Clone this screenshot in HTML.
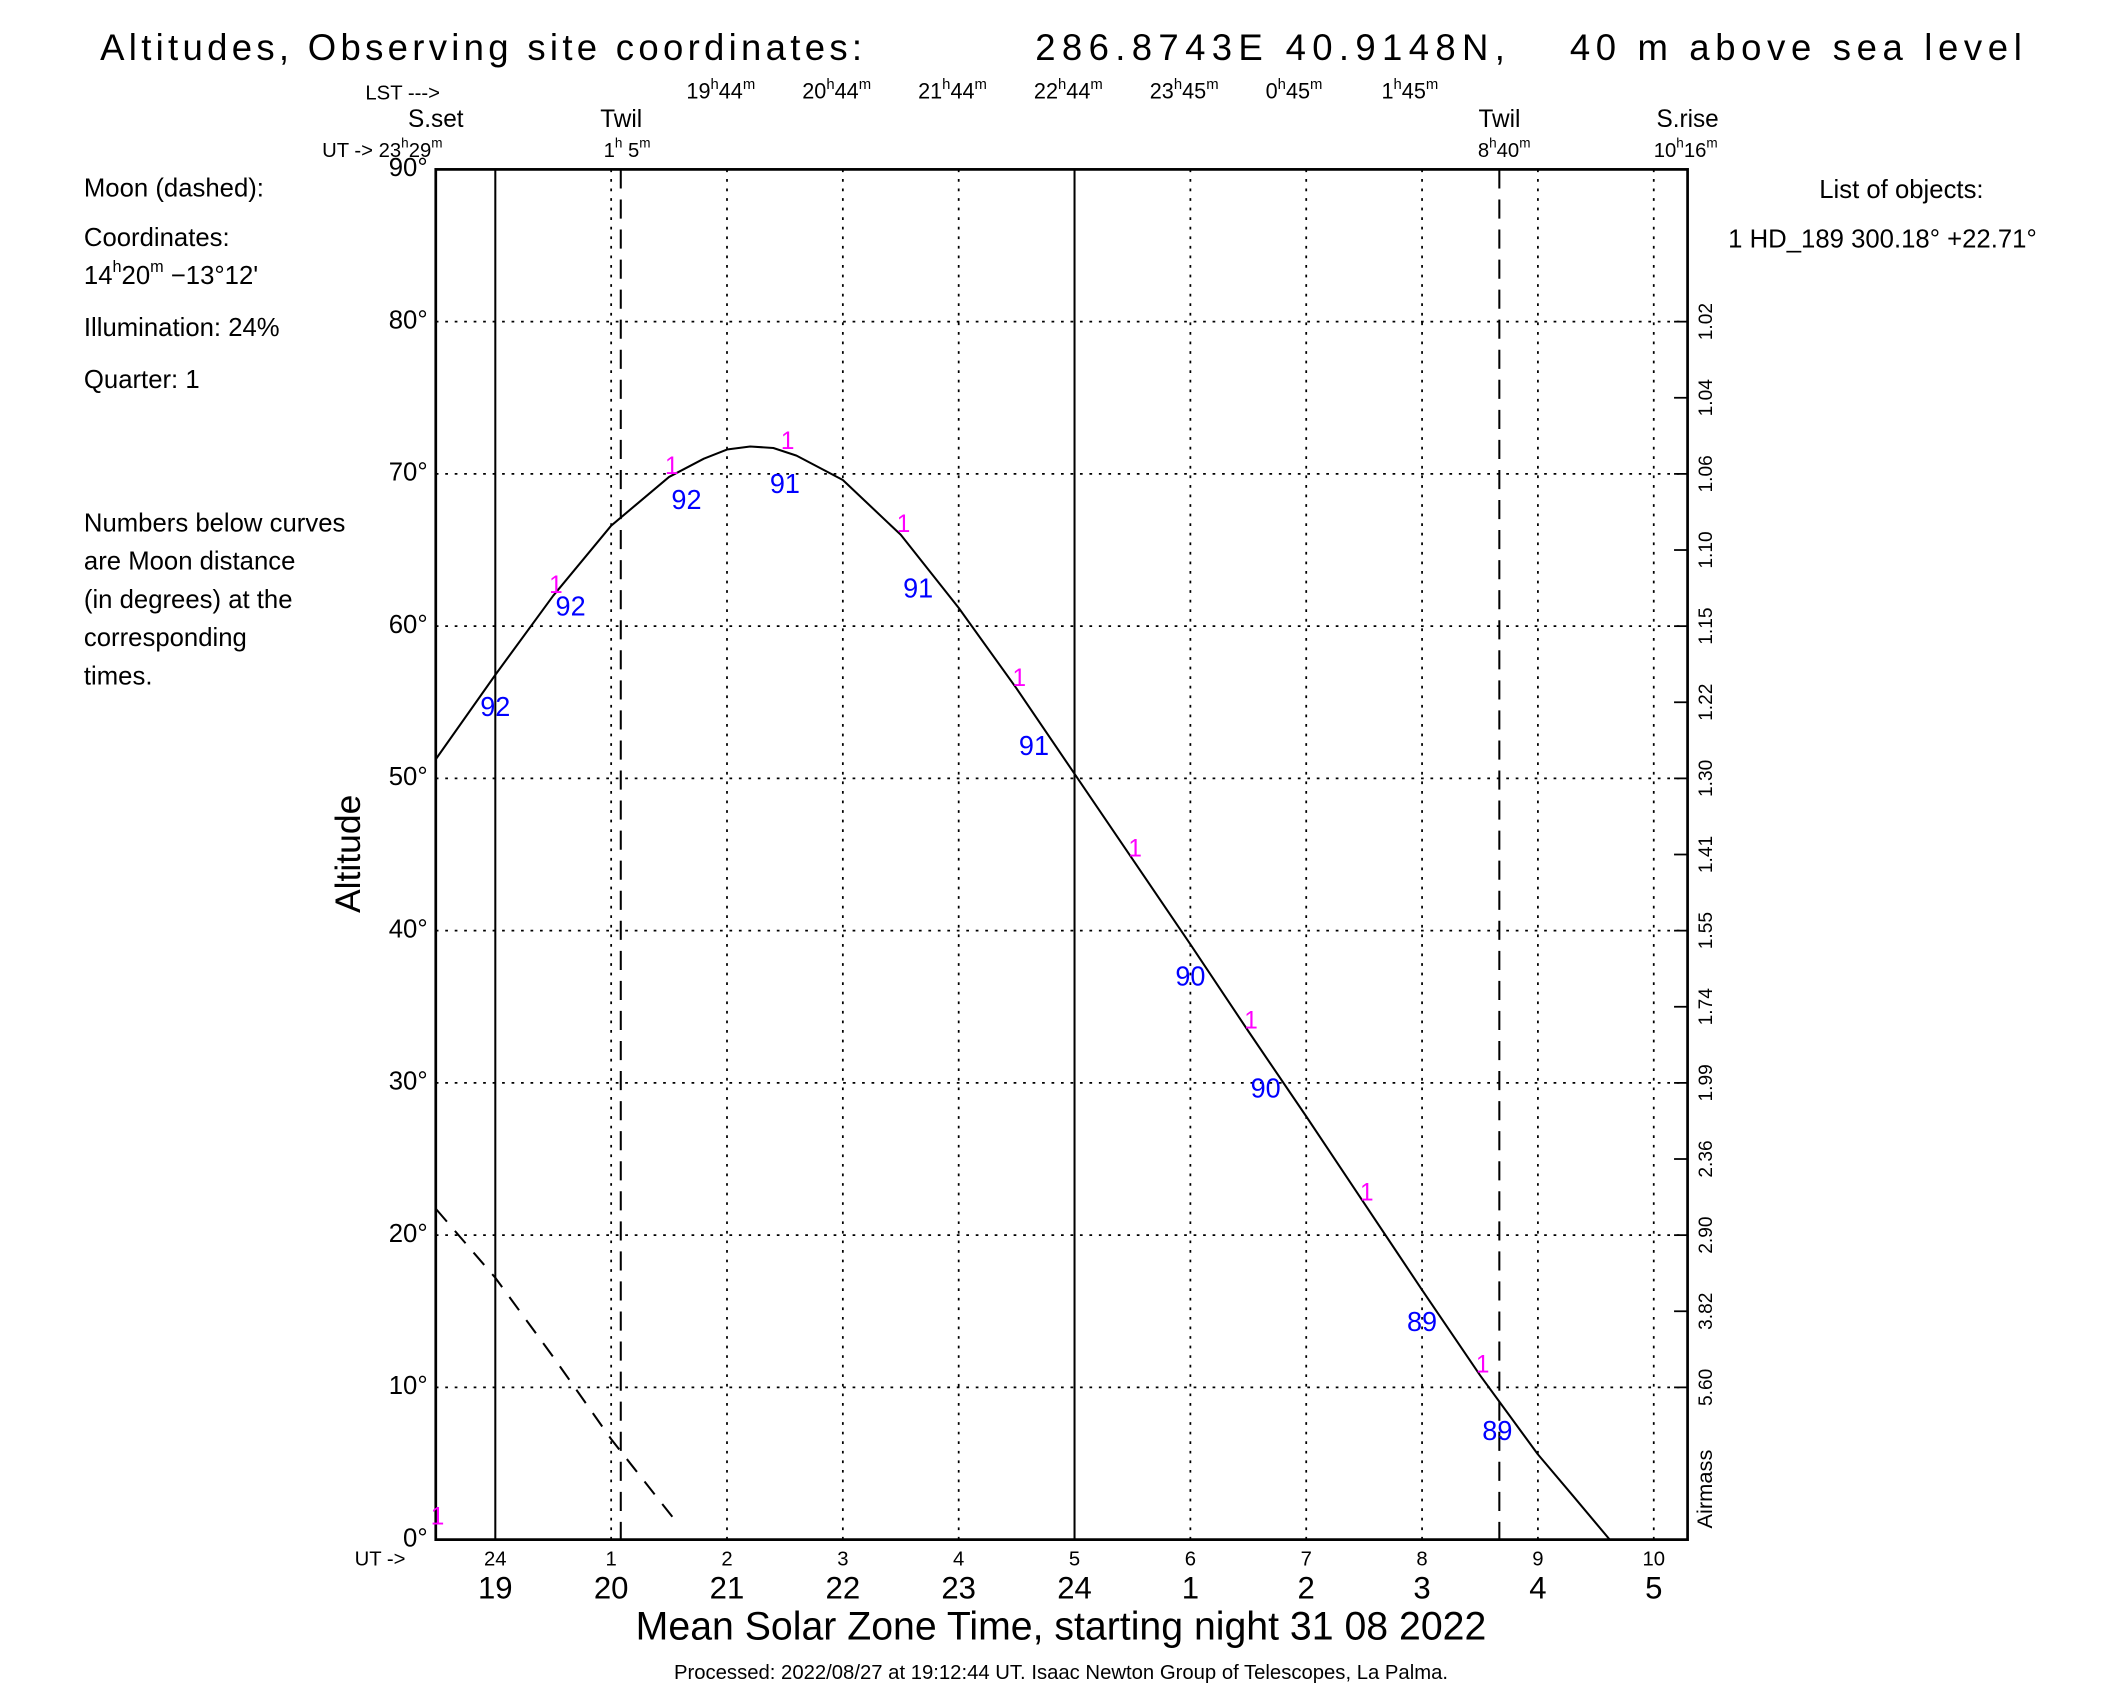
<!DOCTYPE html>
<html><head><meta charset="utf-8"><style>
html,body{margin:0;padding:0;background:#fff;}
svg{display:block;font-family:"Liberation Sans",sans-serif;}
text{fill:#000;}
</style></head><body>
<svg id="chart" width="2122" height="1694" viewBox="0 0 1568 1240" preserveAspectRatio="none" xmlns="http://www.w3.org/2000/svg">
<g font-size="27">
<text x="74" y="44" textLength="563" lengthAdjust="spacing">Altitudes, Observing site coordinates:</text>
<text x="765" y="44" textLength="347" lengthAdjust="spacing">286.8743E  40.9148N,</text>
<text x="1160" y="44" textLength="334" lengthAdjust="spacing">40 m above sea level</text>
</g>
<text x="270" y="73" font-size="15">LST ---&gt;</text>
<text x="322" y="93" font-size="18" text-anchor="middle">S.set</text>
<text x="238" y="115" font-size="15">UT -&gt; 23<tspan font-size="10" dy="-7">h</tspan><tspan dy="7">29</tspan><tspan font-size="10" dy="-7">m</tspan></text>
<text x="459" y="93" font-size="18" text-anchor="middle">Twil</text>
<text x="446" y="115" font-size="15">1<tspan font-size="10" dy="-7">h</tspan><tspan dy="7"> 5</tspan><tspan font-size="10" dy="-7">m</tspan></text>
<text x="1108" y="93" font-size="18" text-anchor="middle">Twil</text>
<text x="1092" y="115" font-size="15">8<tspan font-size="10" dy="-7">h</tspan><tspan dy="7">40</tspan><tspan font-size="10" dy="-7">m</tspan></text>
<text x="1247" y="93" font-size="18" text-anchor="middle">S.rise</text>
<text x="1222" y="115" font-size="15">10<tspan font-size="10" dy="-7">h</tspan><tspan dy="7">16</tspan><tspan font-size="10" dy="-7">m</tspan></text>
<g font-size="19">
<text x="62" y="144">Moon (dashed):</text>
<text x="62" y="180">Coordinates:</text>
<text x="62" y="208">14<tspan font-size="12" dy="-9">h</tspan><tspan dy="9">20</tspan><tspan font-size="12" dy="-9">m</tspan><tspan dy="9">   −13°12'</tspan></text>
<text x="62" y="246">Illumination:  24%</text>
<text x="62" y="284">Quarter: 1</text>
<text x="62" y="389">Numbers below curves</text>
<text x="62" y="417">are Moon distance</text>
<text x="62" y="445">(in degrees) at the</text>
<text x="62" y="473">corresponding</text>
<text x="62" y="501">times.</text>
</g>
<text x="1405" y="145" font-size="19" text-anchor="middle">List of objects:</text>
<text x="1277" y="181" font-size="19">1 HD_189 300.18° +22.71°</text>
<text font-size="26" text-anchor="middle" transform="translate(266,625) rotate(-90)">Altitude</text>
<text x="784" y="1200" font-size="29" text-anchor="middle">Mean Solar Zone Time, starting night 31 08 2022</text>
<text x="784" y="1229" font-size="15" text-anchor="middle">Processed: 2022/08/27 at 19:12:44 UT. Isaac  Newton Group of Telescopes, La Palma.</text>
<text x="262" y="1146" font-size="15">UT -&gt;</text>
<g id="plot"></g>
</svg>
<script>
// Data
const utHours = [0,1,2,3,4,5,6,7,8,9,10];
const utLabels = ["24","1","2","3","4","5","6","7","8","9","10"];
const mstLabels = ["19","20","21","22","23","24","1","2","3","4","5"];
const lstHours = [2,3,4,5,6,7,8];
const lstLabels = [["19","44"],["20","44"],["21","44"],["22","44"],["23","45"],["0","45"],["1","45"]];
const altTicks = [0,10,20,30,40,50,60,70,80,90];
const airmassAlt = [80,75,70,65,60,55,50,45,40,35,30,25,20,15,10];
const airmassLabels = ["1.02","1.04","1.06","1.10","1.15","1.22","1.30","1.41","1.55","1.74","1.99","2.36","2.90","3.82","5.60"];
const objTime = [-0.51,0,0.5,1,1.5,1.8,2,2.2,2.4,2.6,3,3.5,4,4.5,5,5.5,6,6.5,7,7.5,8,8.5,9,9.3,9.62];
const objAlt  = [51.3,56.8,62.0,66.6,69.8,71.0,71.6,71.8,71.7,71.2,69.6,66.0,61.2,55.9,50.3,44.7,39.1,33.4,27.8,22.1,16.4,10.8,5.6,2.9,0];
const moonTime = [-0.51,0,0.5,1,1.58];
const moonAlt  = [21.7,17.2,12.0,6.6,1.0];
const markTime = [0.5,1.5,2.5,3.5,4.5,5.5,6.5,7.5,8.5];
const distTime = [0,0.65,1.65,2.5,3.65,4.65,6.0,6.65,8.0,8.65];
const distVals = ["92","92","92","91","91","91","90","90","89","89"];
const vLines = [0,5];
const twilTimes = [1.083,8.667];

const L=322,R=1247,T=124,B=1127;
const x = h => 366 + h*85.6;
const y = a => B - a*(B-T)/90;
const NS="http://www.w3.org/2000/svg";
const g=document.getElementById('plot');
function mk(tag,attrs){const e=document.createElementNS(NS,tag);for(const k in attrs)e.setAttribute(k,attrs[k]);g.appendChild(e);return e;}

utHours.forEach((h,i)=>{
  if(vLines.includes(h))return;
  const e=mk('line',{x1:x(h),x2:x(h),y1:T,y2:B,stroke:'#000','stroke-width':1.3,'stroke-dasharray':'2 5'});
  
  
});
altTicks.forEach(a=>{
  if(a===0||a===90)return;
  const e=mk('line',{x1:L,x2:R,y1:y(a),y2:y(a),stroke:'#000','stroke-width':1.3,'stroke-dasharray':'2 5'});
  
  
});
vLines.forEach(h=>{
  const e=mk('line',{x1:x(h),x2:x(h),y1:T,y2:B,stroke:'#000','stroke-width':1.5});
  
  
});
twilTimes.forEach(h=>{
  const e=mk('line',{x1:x(h),x2:x(h),y1:T,y2:B,stroke:'#000','stroke-width':1.5,'stroke-dasharray':'14 8'});
  
  
});
const fr=mk('rect',{x:L,y:T,width:R-L,height:B-T,fill:'none',stroke:'#000','stroke-width':2});



altTicks.forEach(a=>{
  const t=mk('text',{x:L-6,y:y(a)+5,'font-size':19,'text-anchor':'end'});
  t.textContent=a+'°';
  
  
});
airmassAlt.forEach((a,i)=>{
  const tk=mk('line',{x1:R-10,x2:R,y1:y(a),y2:y(a),stroke:'#000','stroke-width':1.3});
  
  
  const t=mk('text',{'font-size':14,'text-anchor':'middle',transform:`translate(${R+18},${y(a)}) rotate(-90)`});
  t.textContent=airmassLabels[i];
  
  
});
const am=mk('text',{'font-size':16,'text-anchor':'middle',transform:`translate(${R+18},1090) rotate(-90)`});
am.textContent='Airmass';



utHours.forEach((h,i)=>{
  const t=mk('text',{x:x(h),y:1146,'font-size':15,'text-anchor':'middle'});
  t.textContent=utLabels[i];
  
  
  const m=mk('text',{x:x(h),y:1170,'font-size':23,'text-anchor':'middle'});
  m.textContent=mstLabels[i];
  
  
});
lstHours.forEach((h,i)=>{
  const t=mk('text',{x:x(h)-30,y:72,'font-size':16});
  
  
  t.innerHTML=`${lstLabels[i][0]}<tspan font-size="11" dy="-7">h</tspan><tspan dy="7">${lstLabels[i][1]}</tspan><tspan font-size="11" dy="-7">m</tspan>`;
});

const op=mk('polyline',{points:objTime.map((t,i)=>x(t)+','+y(objAlt[i])).join(' '),fill:'none',stroke:'#000','stroke-width':1.5,'stroke-linejoin':'round'});


const mp=mk('polyline',{points:moonTime.map((t,i)=>x(t)+','+y(moonAlt[i])).join(' '),fill:'none',stroke:'#000','stroke-width':1.5,'stroke-dasharray':'12 9'});



function interp(t){for(let i=0;i<objTime.length-1;i++){if(t>=objTime[i]&&t<=objTime[i+1]){const f=(t-objTime[i])/(objTime[i+1]-objTime[i]);return objAlt[i]+f*(objAlt[i+1]-objAlt[i]);}}return objAlt[objAlt.length-1];}
const m0=mk('text',{x:x(-0.51)+1,y:y(1),'font-size':18,'text-anchor':'middle'});
m0.style.fill='#ff00ff';
m0.textContent='1';


markTime.forEach(t=>{
  const e=mk('text',{x:x(t)+2,y:y(interp(t))-2,'font-size':18,'text-anchor':'middle'});
  e.style.fill='#ff00ff';
  e.textContent='1';
  
  
});
distTime.forEach((t,i)=>{
  const e=mk('text',{x:x(t),y:y(interp(t))+30,'font-size':20,'text-anchor':'middle'});
  e.style.fill='#0000ff';
  e.textContent=distVals[i];
  
  
});
</script>
</body></html>
